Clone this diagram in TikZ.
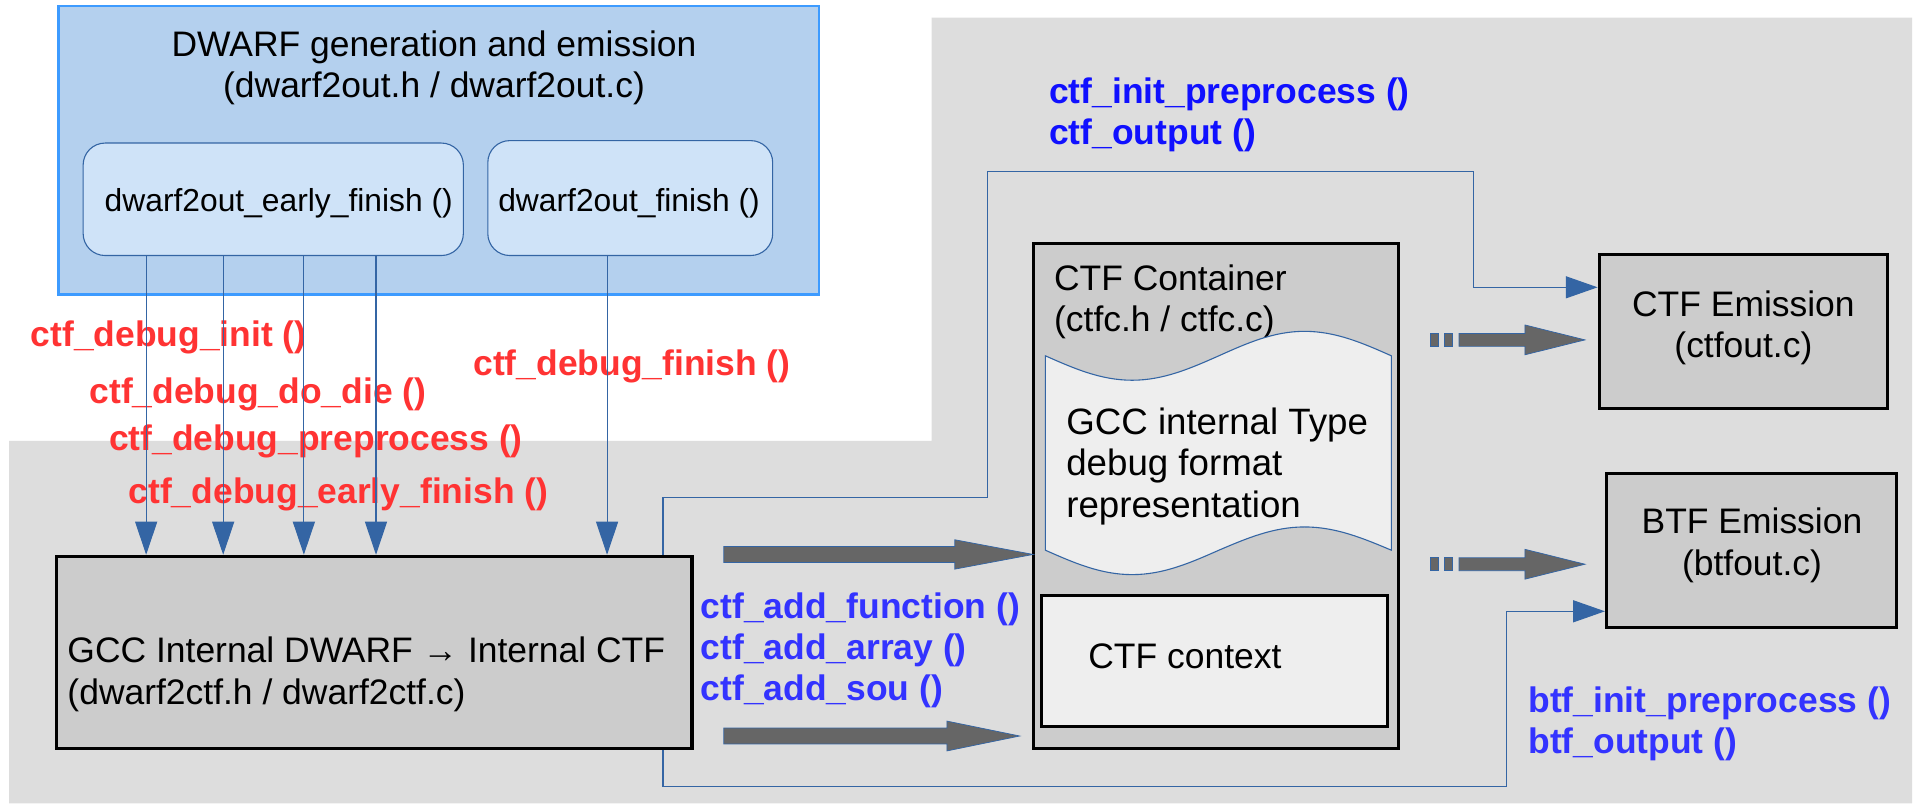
\documentclass[tikz,border=0pt]{standalone}
\usepackage{fontspec}
\setmainfont{Liberation Sans}
\usetikzlibrary{arrows.meta,calc}
\definecolor{bggray}{HTML}{DDDDDD}
\definecolor{dwfill}{HTML}{B4D0EE}
\definecolor{dwborder}{HTML}{3D9BFF}
\definecolor{fnfill}{HTML}{CFE3F8}
\definecolor{fnborder}{HTML}{3465A4}
\definecolor{boxgray}{HTML}{CCCCCC}
\definecolor{paper}{HTML}{EEEEEE}
\definecolor{linkblue}{HTML}{3465A4}
\definecolor{arrgray}{HTML}{666666}
\definecolor{lblred}{HTML}{FF3333}
\definecolor{lblblue}{HTML}{3333FF}
\definecolor{lbldeep}{HTML}{1010FF}
\newcommand\fsz[2]{\fontsize{#1}{#2}\selectfont}
% x1 = tail, x2 = head start, x3 = tip, y = centre, a = half shaft, b = half head
\newcommand\blkarrow[6]{%
  \filldraw[fill=arrgray, draw=linkblue, line width=0.6pt]
    (#1,#4-#5) -- (#2,#4-#5) -- (#2,#4-#6) -- (#3,#4) -- (#2,#4+#6) -- (#2,#4+#5) -- (#1,#4+#5) -- cycle;}
\newcommand\dotbits[2]{%
  \filldraw[fill=arrgray, draw=linkblue, line width=0.6pt] (1170.2,#1-#2) rectangle (1176.8,#1+#2);
  \filldraw[fill=arrgray, draw=linkblue, line width=0.6pt] (1181.7,#1-#2) rectangle (1188.2,#1+#2);}
\begin{document}
\begin{tikzpicture}[x=1pt,y=-1pt,
  dwbox/.style={rectangle, fill=dwfill, draw=dwborder, line width=2.2pt, minimum width=622pt, minimum height=236pt, inner sep=0pt},
  fnbox/.style={rectangle, rounded corners=18pt, fill=fnfill, draw=fnborder, line width=0.9pt, inner sep=0pt},
  fntext/.style={inner sep=0pt, font=\fsz{26}{30}},
  gbox/.style={rectangle, fill=boxgray, draw=black, line width=2.5pt, inner sep=0pt},
  txt/.style={inner sep=0pt, font=\fsz{29}{34}, align=left},
  call/.style={draw=linkblue, line width=0.9pt, -{Triangle[length=27pt,width=18pt,fill=linkblue]}},
  route/.style={draw=linkblue, line width=0.9pt, -{Triangle[length=26pt,width=18pt,fill=linkblue]}},
  redlbl/.style={inner sep=0pt, anchor=west, text=lblred, font=\bfseries\fsz{29}{34}},
  bluelbl/.style={inner sep=0pt, anchor=west, text=lblblue, font=\bfseries\fsz{29}{33.5}, align=left},
]
\useasboundingbox (0,0) rectangle (1568,657);
\fill[white] (0,0) rectangle (1568,657);
\fill[bggray] (762,14.5) -- (1564,14.5) -- (1564,657) -- (7.5,657) -- (7.5,360.5) -- (762,360.5) -- cycle;

% DWARF block
\node[dwbox] (dwarf) at (359,123) {};
\node[txt, align=center, font=\fsz{29}{33}] (dwtitle) at (355,55.5) {DWARF generation and emission\\(dwarf2out.h / dwarf2out.c)};
\node[fnbox, minimum width=311pt, minimum height=92pt] (early) at (223.5,163) {};
\node[fntext] (earlytext) at (228,166) {dwarf2out\_early\_finish ()};
\node[fnbox, minimum width=233pt, minimum height=94pt] (fin) at (515.5,162) {};
\node[fntext] (fintext) at (514.5,166) {dwarf2out\_finish ()};

% GCC internal box
\node[gbox, minimum width=520pt, minimum height=157pt] (gcc) at (306,533.5) {};
\node[txt, anchor=west] (gcctext) at (55,551.5) {GCC Internal DWARF → Internal CTF\\(dwarf2ctf.h / dwarf2ctf.c)};

% Emission boxes
\node[gbox, minimum width=236pt, minimum height=126pt] (ctfem) at (1426,271) {};
\node[txt, align=center] (ctfemtext) at (1426,268) {CTF Emission\\(ctfout.c)};
\node[gbox, minimum width=237pt, minimum height=126pt] (btfem) at (1432.5,450) {};
\node[txt, align=center] (btfemtext) at (1433,446) {BTF Emission\\(btfout.c)};

% CTF container
\node[gbox, minimum width=299pt, minimum height=413pt] (cont) at (994.5,405.5) {};
\node[txt, anchor=west, font=\fsz{29}{33}] (conttitle) at (862,247) {CTF Container\\(ctfc.h / ctfc.c)};
\filldraw[fill=paper, draw=fnborder, line width=0.9pt]
  (855,291) sin (926,311) cos (997,291) sin (1067,271) cos (1138,291)
  -- (1138,450) sin (1067,431) cos (997,450) sin (926,470) cos (855,450) -- cycle;
\node[txt, font=\fsz{30}{34}, anchor=west] (tapetext) at (872,381.5) {GCC internal Type\\debug format\\representation};
\node[rectangle, fill=paper, draw=black, line width=2.2pt, minimum width=283pt, minimum height=107pt] (ctx) at (993.5,540.5) {};
\node[txt, anchor=west] (ctxtext) at (890,537) {CTF context};

% labels
\node[redlbl] (lbinit) at (25,276) {ctf\_debug\_init ()};
\node[redlbl] (lbdie) at (73,323) {ctf\_debug\_do\_die ()};
\node[redlbl] (lbpre) at (89,361) {ctf\_debug\_preprocess ()};
\node[redlbl] (lbearly) at (105,404) {ctf\_debug\_early\_finish ()};
\node[redlbl] (lbfin) at (387,300) {ctf\_debug\_finish ()};
\node[bluelbl, text=lbldeep] (lbctfout) at (858,94) {ctf\_init\_preprocess ()\\ctf\_output ()};
\node[bluelbl] (lbadd) at (573,532) {ctf\_add\_function ()\\ctf\_add\_array ()\\ctf\_add\_sou ()};
\node[bluelbl] (lbbtf) at (1250,592) {btf\_init\_preprocess ()\\btf\_output ()};

% calls
\foreach \dx in {52,115,181,240}
  \draw[call] ([xshift=\dx pt]early.south west) -- ([xshift=\dx pt]early.south west |- gcc.north);
\draw[call] ([xshift=98pt]fin.south west) -- ([xshift=98pt]fin.south west |- gcc.north);

% routes
\coordinate (t1) at (808,407);
\coordinate (t2) at (1205,140);
\draw[route] ([xshift=-25pt]gcc.north east) |- (t1) |- (t2) |- ([yshift=36pt]ctfem.west);
\coordinate (b1) at (1232,643);
\draw[route] ([xshift=-25pt]gcc.south east) |- (b1) |- ([yshift=-50pt]btfem.west);

% block arrows
\blkarrow{592}{781}{845}{453.5}{6.5}{12}
\blkarrow{592}{774.5}{834}{602}{6.5}{12.2}
\dotbits{278}{5.3}
\blkarrow{1193.4}{1247.3}{1296.4}{278}{5.3}{12.2}
\dotbits{461.5}{5.3}
\blkarrow{1193.4}{1247.3}{1296.4}{461.5}{5.3}{12.2}
\end{tikzpicture}
\end{document}
